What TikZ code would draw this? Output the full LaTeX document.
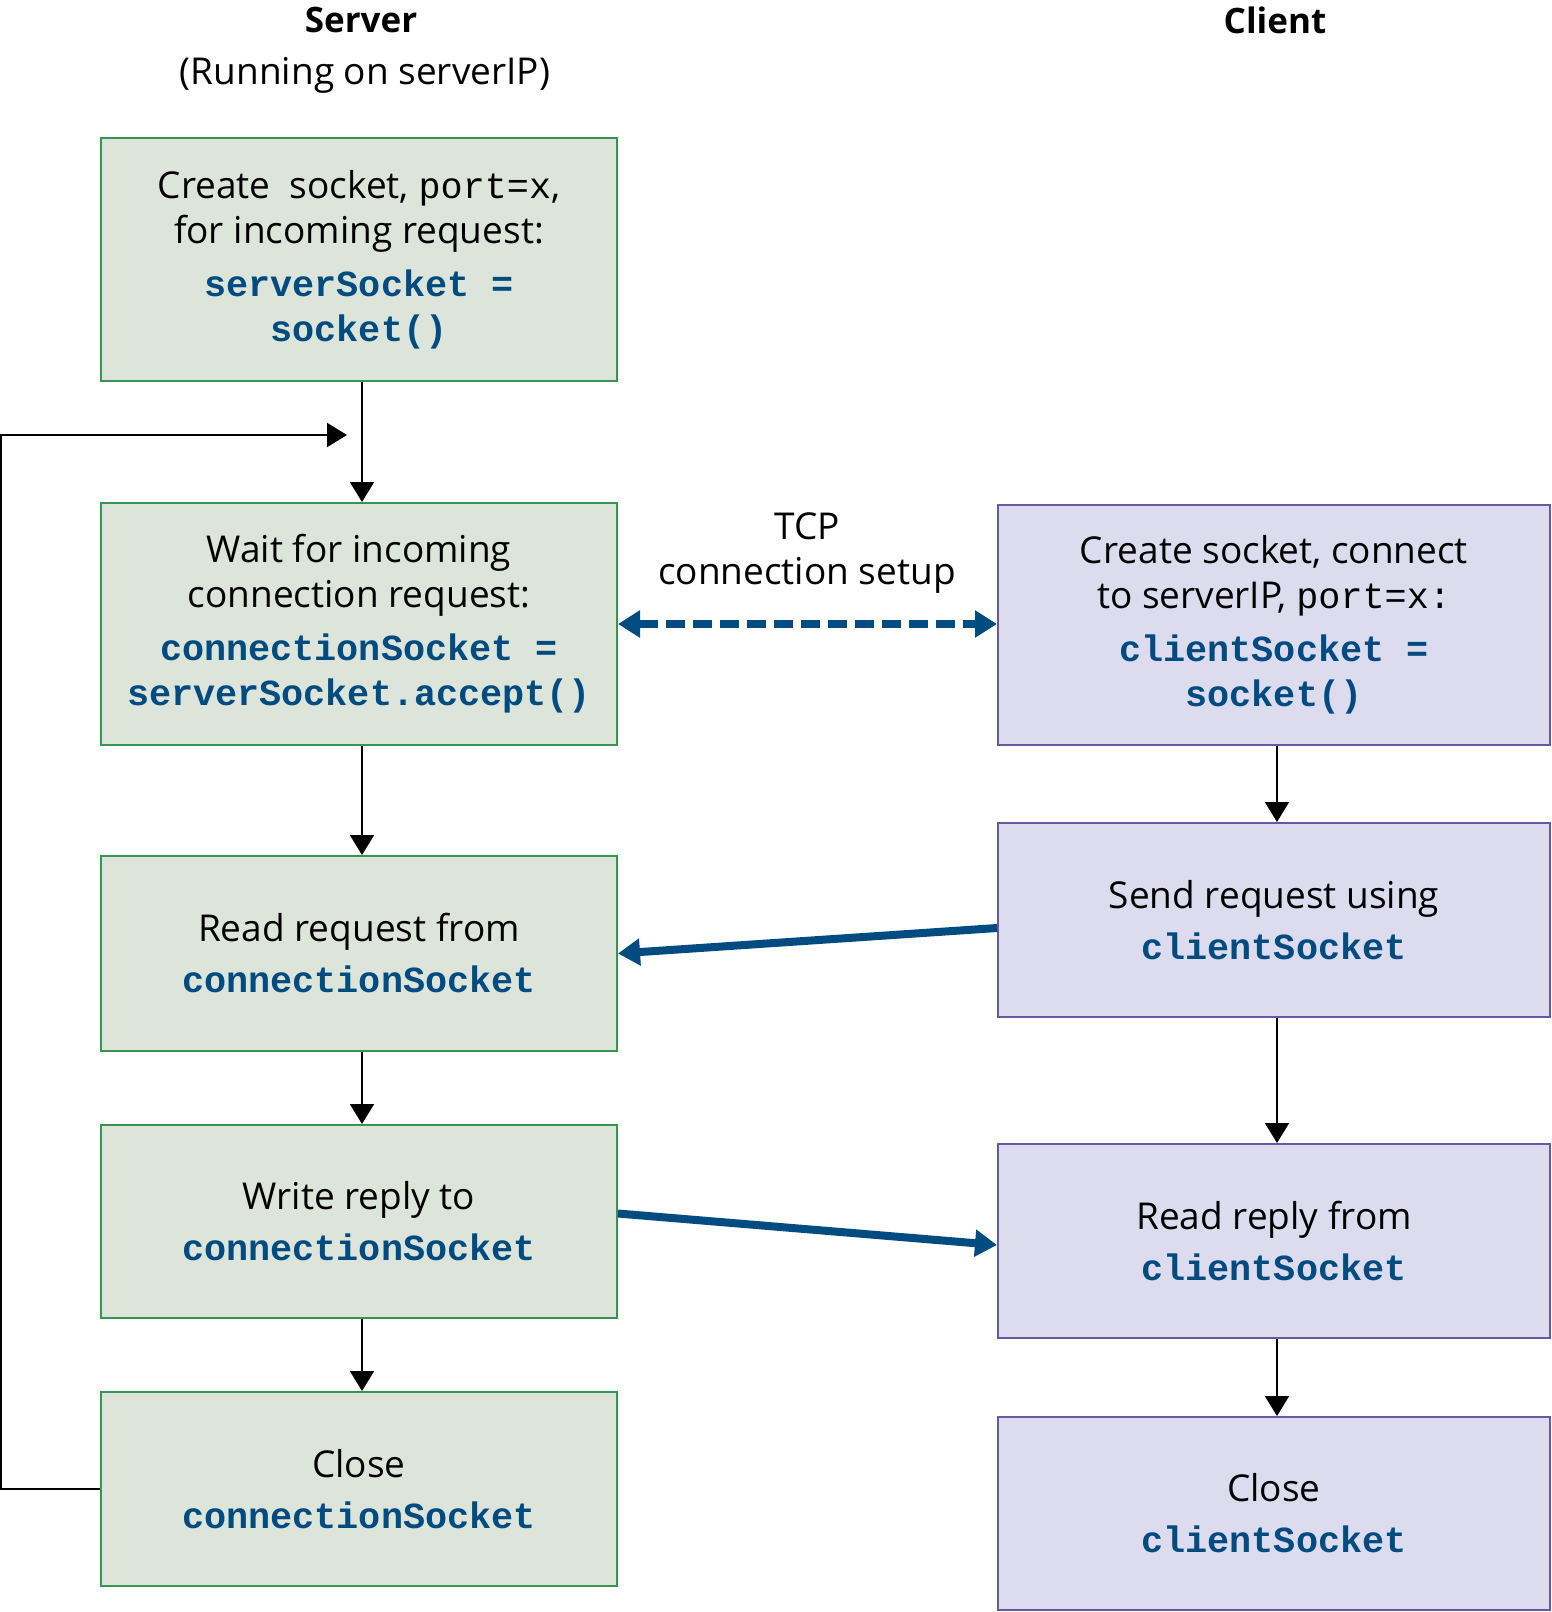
\documentclass[tikz,border=0pt]{standalone}
\usepackage{fontspec}
\setmainfont{Open Sans}
\setmonofont{Liberation Mono}
\usetikzlibrary{arrows.meta,calc}
\definecolor{srvfill}{RGB}{221,229,218}
\definecolor{srvline}{RGB}{52,150,80}
\definecolor{clifill}{RGB}{221,219,238}
\definecolor{cliline}{RGB}{104,88,164}
\definecolor{codeblue}{RGB}{0,75,128}
\newcommand{\code}[1]{{\fontsize{18.4}{22.5}\selectfont\ttfamily\bfseries\color{codeblue}#1}}
\newcommand{\port}[1]{{\fontsize{18.4}{22.5}\selectfont\ttfamily #1}}
\tikzset{
	srvbox/.style={draw=srvline, fill=srvfill, line width=1pt, minimum width=258pt, align=center, inner sep=0pt},
	clibox/.style={draw=cliline, fill=clifill, line width=1pt, minimum width=276pt, align=center, inner sep=0pt},
	flow/.style={-{Triangle[length=10pt,width=12pt]}, line width=1pt},
	msg/.style={-{Triangle[length=11pt,width=13pt]}, line width=4pt, draw=codeblue},
	setup/.style={{Triangle[length=11pt,width=13pt]}-{Triangle[length=11pt,width=13pt]}, line width=4pt, draw=codeblue, dash pattern=on 9.5pt off 4pt}
}
\begin{document}
\begin{tikzpicture}[x=0.5pt, y=-0.5pt, font=\fontsize{18.5}{22.5}\selectfont]
	\useasboundingbox (0,0) rectangle (1552,1612);

	% Column headings
	\node[font=\fontsize{17.5}{22}\selectfont\bfseries] (srvhead) at (361,20) {Server};
	\node (srvrun) at (365,75) {(Running on serverIP)};
	\node[font=\fontsize{17.5}{22}\selectfont\bfseries] (clihead) at (1275,20) {Client};

	% Server side
	\node[srvbox, minimum height=121.5pt] (srv1) at (359,259.5)
		{Create~ socket, \port{port=x},\\ for incoming request:\\[4pt]
		 \code{serverSocket =}\\ \code{socket()}};
	\node[srvbox, minimum height=121pt] (srv2) at (359,624)
		{Wait for incoming\\ connection request:\\[4pt]
		 \code{connectionSocket =}\\ \code{serverSocket.accept()}};
	\node[srvbox, minimum height=97.5pt] (srv3) at (359,953.5)
		{Read request from\\[3pt] \code{connectionSocket}};
	\node[srvbox, minimum height=96.5pt] (srv4) at (359,1221.5)
		{Write reply to\\[3pt] \code{connectionSocket}};
	\node[srvbox, minimum height=97pt] (srv5) at (359,1489)
		{Close\\[3pt] \code{connectionSocket}};

	% Client side
	\node[clibox, minimum height=120pt] (cli1) at (1274,625)
		{Create socket, connect\\ to serverIP, \port{port=x:}\\[4pt]
		 \code{clientSocket =}\\ \code{socket()}};
	\node[clibox, minimum height=97pt] (cli2) at (1274,920)
		{Send request using\\[3pt] \code{clientSocket}};
	\node[clibox, minimum height=97pt] (cli3) at (1274,1241)
		{Read reply from\\[3pt] \code{clientSocket}};
	\node[clibox, minimum height=96.5pt] (cli4) at (1274,1513.5)
		{Close\\[3pt] \code{clientSocket}};

	% TCP label
	\node[align=center] (tcp) at (807,553) {TCP\\ connection setup};

	% Flow arrows
	\foreach \a/\b in {srv1/srv2, srv2/srv3, srv3/srv4, srv4/srv5, cli1/cli2, cli2/cli3, cli3/cli4}
		\draw[flow] ([xshift=1.5pt]\a.south) -- ([xshift=1.5pt]\b.north);

	% Loop back to waiting
	\coordinate (corner) at (1,435);
	\coordinate (back) at (347,435);
	\draw[flow] (srv5.west) -| (corner) -- (back);

	% Messages between the two sides
	\draw[setup] (srv2.east) -- (cli1.west |- srv2.east);
	\draw[msg] ([yshift=-4pt]cli2.west) -- (srv3.east);
	\draw[msg] ([yshift=4pt]srv4.east) -- ([yshift=-2pt]cli3.west);
\end{tikzpicture}
\end{document}
